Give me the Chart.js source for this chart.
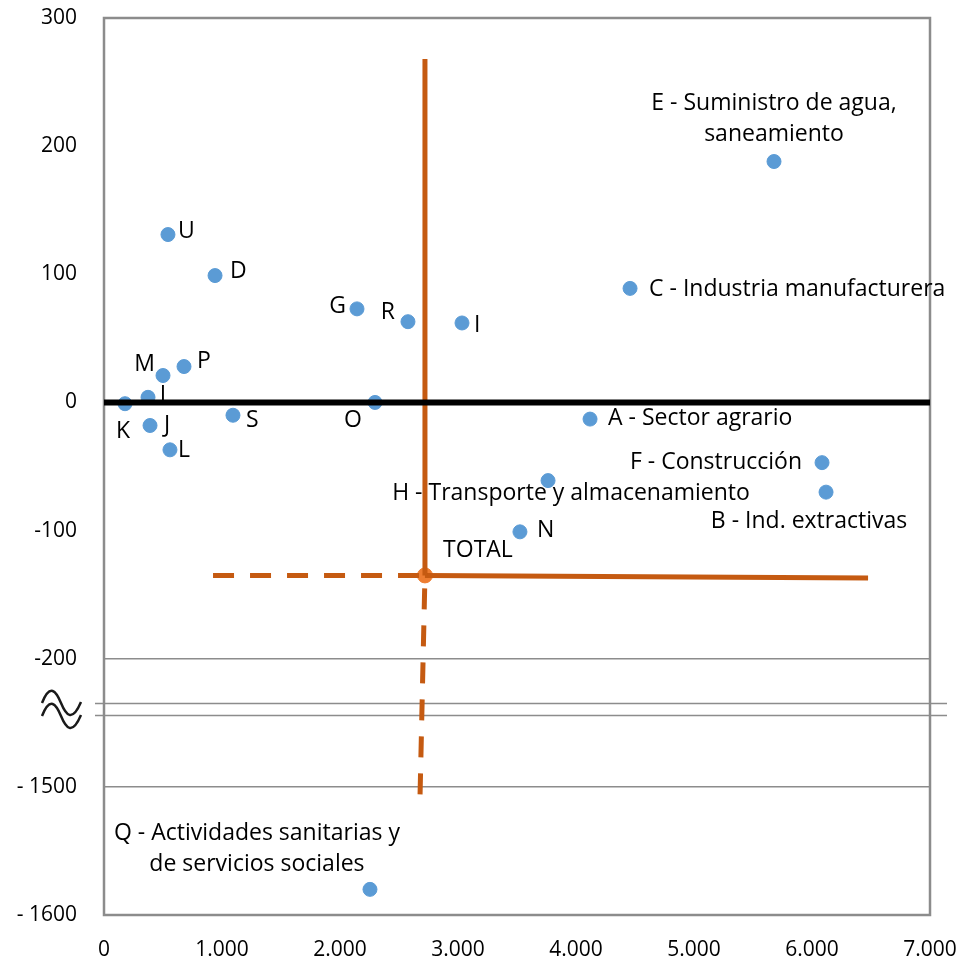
<!DOCTYPE html>
<html>
<head>
<meta charset="utf-8">
<script src="https://cdn.jsdelivr.net/npm/chart.js@4"></script>
<style>
  html, body { margin: 0; padding: 0; background: #fff; }
  #wrap { width: 962px; height: 961px; }
</style>
</head>
<body>
<div id="wrap"><canvas id="chart"></canvas></div>
<script>
// Sector codes and values
const sectors = ['E', 'C', 'U', 'D', 'G', 'R', 'I', 'M', 'P', 'T', 'K', 'J', 'L', 'S', 'O', 'A', 'F', 'B', 'H', 'N', 'Q'];
const xValues = [5678, 4458, 542, 941, 2144, 2576, 3034, 500, 678, 373, 178, 390, 559, 1093, 2297, 4119, 6085, 6119, 3763, 3525, 2254];
const yValues = [188, 89, 131, 99, 73, 63, 62, 21, 28, 4, -1, -18, -37, -10, 0, -13, -47, -70, -61, -101, -1580];
const labelText = [
    ['E - Suministro de agua,', 'saneamiento'],
    ['C - Industria manufacturera'],
    ['U'], ['D'], ['G'], ['R'], ['I'], ['M'], ['P'], ['I'], ['K'], ['J'], ['L'], ['S'], ['O'],
    ['A - Sector agrario'],
    ['F - Construcción'],
    ['B - Ind. extractivas'],
    ['H - Transporte y almacenamiento'],
    ['N'],
    ['Q - Actividades sanitarias y', 'de servicios sociales']
];
const totalPoint = { x: 2720, y: -135 };
const totalTop = 268;
const totalBottom = { x: 2678, y: -1508 };
const totalLeft = 924;
const totalRight = { x: 6475, y: -137 };
const yTicks = [300, 200, 100, 0, -100, -200, -1500, -1600];
const xTicks = [0, 1000, 2000, 3000, 4000, 5000, 6000, 7000];

// broken axis: everything under -250 is pulled up by 1200
const BREAK = -250, SHIFT = 1200;
function toAxis(v) { return v < BREAK ? v + SHIFT : v; }
function fromAxis(v) { return v < BREAK ? v - SHIFT : v; }

// label placement (dx, dy from the point, alignment)
const labelPos = {
    E: [0, -58, 'center'], C: [19, 1, 'left'], U: [10, -3, 'left'], D: [15, -4, 'left'],
    G: [-11, -2, 'right'], R: [-13, -9, 'right'], I: [12, 2, 'left'], M: [-8, -11, 'right'],
    P: [13, -5, 'left'], T: [15, -2, 'center'], K: [-2, 28, 'center'], J: [14, 0, 'left'],
    L: [8, 1, 'left'], S: [13, 5, 'left'], O: [-22, 18, 'center'], A: [18, -1, 'left'],
    F: [-20, 0, 'right'], B: [-17, 29, 'center'], H: [23, 13, 'center'], N: [17, -1, 'left'],
    Q: [-113, -56, 'center']
};

const FONT = '"Open Sans", "Noto Sans", sans-serif';
const BLUE = '#5B9BD5';
const ORANGE_LINE = '#C55A11';
const ORANGE_DOT = '#ED7D31';
const GRAY = '#8C8C8C';

const points = xValues.map((x, i) => ({ x: x, y: toAxis(yValues[i]) }));

const decorations = {
    id: 'decorations',
    beforeDatasetsDraw(chart) {
        const ctx = chart.ctx;
        const a = chart.chartArea;
        const ys = chart.scales.y, xs = chart.scales.x;
        ctx.save();
        // break lines
        ctx.strokeStyle = GRAY;
        ctx.lineWidth = 1.5;
        [-234.5, -244].forEach(v => {
            const py = Math.round(ys.getPixelForValue(v)) + 0.5;
            ctx.beginPath();
            ctx.moveTo(a.left - 9, py);
            ctx.lineTo(a.right + 17, py);
            ctx.stroke();
        });
        // frame
        ctx.lineWidth = 2.5;
        ctx.strokeRect(a.left, a.top, a.right - a.left, a.bottom - a.top);
        // break symbol
        ctx.strokeStyle = '#1a1a1a';
        ctx.lineWidth = 2.5;
        [0, 13].forEach(off => {
            const y0 = 703 + off;
            ctx.beginPath();
            ctx.moveTo(42, y0);
            ctx.bezierCurveTo(50, y0 - 20, 56, y0 - 12, 61, y0);
            ctx.bezierCurveTo(66, y0 + 12, 72, y0 + 20, 81, y0 - 1);
            ctx.stroke();
        });
        // point labels
        ctx.fillStyle = '#000';
        ctx.font = '23px ' + FONT;
        ctx.textBaseline = 'middle';
        sectors.forEach((s, i) => {
            const p = labelPos[s];
            const px = xs.getPixelForValue(points[i].x) + p[0];
            const py = ys.getPixelForValue(points[i].y) + p[1];
            ctx.textAlign = p[2];
            labelText[i].forEach((line, k) => ctx.fillText(line, px, py + k * 31));
        });
        ctx.textAlign = 'center';
        ctx.fillText('TOTAL', xs.getPixelForValue(totalPoint.x) + 53, ys.getPixelForValue(totalPoint.y) - 25);
        ctx.restore();
    }
};

new Chart(document.getElementById('chart'), {
    type: 'scatter',
    data: {
        datasets: [
            {
                label: 'cero',
                data: [{ x: 0, y: 0 }, { x: 7000, y: 0 }],
                showLine: true, borderColor: '#000', borderWidth: 6, pointRadius: 0
            },
            {
                label: 'vertical',
                data: [{ x: totalPoint.x, y: totalTop }, totalPoint],
                showLine: true, borderColor: ORANGE_LINE, borderWidth: 5, pointRadius: 0
            },
            {
                label: 'horizontal',
                data: [totalPoint, { x: totalRight.x, y: toAxis(totalRight.y) }],
                showLine: true, borderColor: ORANGE_LINE, borderWidth: 5, pointRadius: 0
            },
            {
                label: 'vertical discontinua',
                data: [totalPoint, { x: totalBottom.x, y: toAxis(totalBottom.y) }],
                showLine: true, borderColor: ORANGE_LINE, borderWidth: 5, borderDash: [21, 16], borderDashOffset: 24, pointRadius: 0
            },
            {
                label: 'horizontal discontinua',
                data: [{ x: totalLeft, y: totalPoint.y }, totalPoint],
                showLine: true, borderColor: ORANGE_LINE, borderWidth: 5, borderDash: [21, 16], pointRadius: 0
            },
            {
                label: 'sectores',
                data: points,
                backgroundColor: BLUE, borderColor: BLUE, pointRadius: 7, pointHoverRadius: 7
            },
            {
                label: 'TOTAL',
                data: [totalPoint],
                backgroundColor: ORANGE_DOT, borderColor: ORANGE_DOT, pointRadius: 7.5
            }
        ]
    },
    options: {
        responsive: true,
        maintainAspectRatio: false,
        animation: false,
        layout: { padding: { top: 18, right: 32, left: 0, bottom: 0 } },
        plugins: { legend: { display: false }, tooltip: { enabled: false } },
        scales: {
            x: {
                type: 'linear', min: 0, max: 7000,
                afterFit(scale) { scale.height = 46; scale.paddingLeft = 0; scale.paddingRight = 0; },
                afterBuildTicks(scale) { scale.ticks = xTicks.map(v => ({ value: v })); },
                grid: { display: false },
                border: { display: false },
                ticks: {
                    padding: 14,
                    color: '#000',
                    font: { family: FONT, size: 21 },
                    maxRotation: 0,
                    callback: v => v === 0 ? '0' : Math.floor(v / 1000) + '.' + String(v % 1000).padStart(3, '0')
                }
            },
            y: {
                type: 'linear', min: -400, max: 300,
                afterFit(scale) { scale.width = 104; scale.paddingTop = 0; scale.paddingBottom = 0; },
                afterBuildTicks(scale) { scale.ticks = yTicks.map(v => ({ value: toAxis(v) })); },
                border: { display: false },
                grid: {
                    drawTicks: false,
                    color: ctx => (ctx.tick && (ctx.tick.value === -200 || ctx.tick.value === -300)) ? GRAY : 'rgba(0,0,0,0)',
                    lineWidth: 1.5
                },
                ticks: {
                    padding: 27,
                    color: '#000',
                    font: { family: FONT, size: 21 },
                    callback: v => {
                        const real = fromAxis(v);
                        return real < BREAK ? '- ' + Math.abs(real) : String(real);
                    }
                }
            }
        }
    },
    plugins: [decorations]
});
</script>
</body>
</html>
